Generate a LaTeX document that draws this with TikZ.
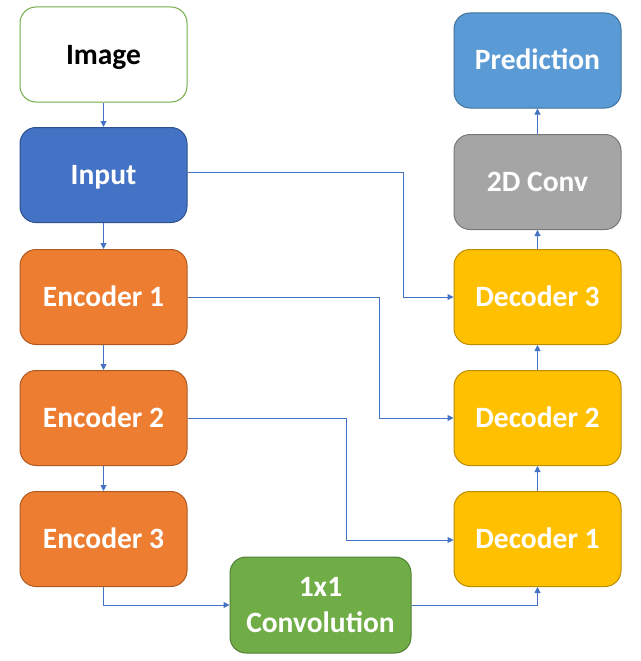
\documentclass[tikz,border=0pt]{standalone}
\usepackage{fontspec}
\setmainfont{Carlito}
\usetikzlibrary{arrows.meta}
\definecolor{cgreen}{HTML}{70AD47}
\definecolor{cgreenb}{HTML}{507E32}
\definecolor{cblue}{HTML}{4472C4}
\definecolor{cblueb}{HTML}{2F528F}
\definecolor{corange}{HTML}{ED7D31}
\definecolor{corangeb}{HTML}{AE5A21}
\definecolor{cyellow}{HTML}{FFC000}
\definecolor{cyellowb}{HTML}{BC8C00}
\definecolor{cgray}{HTML}{A5A5A5}
\definecolor{cgrayb}{HTML}{787878}
\definecolor{clblue}{HTML}{5B9BD5}
\definecolor{clblueb}{HTML}{41719C}
\tikzset{
  base/.style={rectangle, rounded corners=16pt, line width=1pt, inner sep=0pt,
    minimum width=167pt, minimum height=95pt, text=white,
    font=\fontsize{29.5}{36}\selectfont\bfseries, align=center},
  box/.style={base, text height=25pt, text depth=6pt},
  imgbox/.style={box, draw=cgreen, fill=white, text=black},
  inbox/.style={box, draw=cblueb, fill=cblue},
  encbox/.style={box, draw=corangeb, fill=corange},
  decbox/.style={box, draw=cyellowb, fill=cyellow},
  convbox/.style={base, draw=cgreenb, fill=cgreen, minimum width=181pt, minimum height=96pt},
  graybox/.style={box, draw=cgrayb, fill=cgray},
  predbox/.style={box, draw=clblueb, fill=clblue},
  conn/.style={draw=cblue, line width=1pt, -{Triangle[length=6pt,width=6pt]}}
}
\begin{document}
\begin{tikzpicture}[x=1pt,y=-1pt]
\useasboundingbox (0,0) rectangle (640,661);
\node[imgbox] (img) at (103.5,54.5) {Image};
\node[inbox] (inp) at (103.5,175) {Input};
\node[encbox] (e1) at (103.5,297) {Encoder 1};
\node[encbox] (e2) at (103.5,418) {Encoder 2};
\node[encbox] (e3) at (103.5,539) {Encoder 3};
\node[convbox] (conv) at (320.5,605) {1x1\\Convolution};
\node[decbox] (d1) at (537.5,539) {Decoder 1};
\node[decbox] (d2) at (537.5,418) {Decoder 2};
\node[decbox] (d3) at (537.5,297) {Decoder 3};
\node[graybox] (c2d) at (537.5,182) {2D Conv};
\node[predbox] (pred) at (537.5,60.5) {Prediction};
\coordinate (k1) at (403,297);
\coordinate (k2) at (379,418);
\coordinate (k3) at (346,540);
\draw[conn] (img) -- (inp);
\draw[conn] (inp) -- (e1);
\draw[conn] (e1) -- (e2);
\draw[conn] (e2) -- (e3);
\draw[conn] (d1) -- (d2);
\draw[conn] (d2) -- (d3);
\draw[conn] (d3) -- (c2d);
\draw[conn] (c2d) -- (pred);
\draw[conn] ([yshift=3pt]inp.east) -| (k1) -- (d3.west);
\draw[conn] (e1.east) -| (k2) -- (d2.west);
\draw[conn] (e2.east) -| (k3) -- (k3 -| d1.west);
\draw[conn] (e3.south) |- (conv.west);
\draw[conn] (conv.east) -| (d1.south);
\end{tikzpicture}
\end{document}
